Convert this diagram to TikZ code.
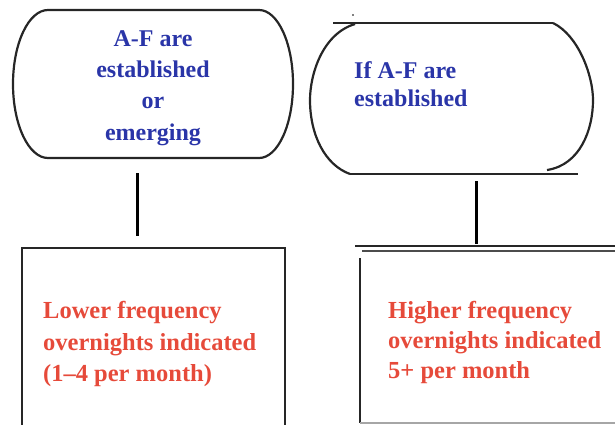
\documentclass[tikz,border=0pt]{standalone}
\usepackage{fontspec}
\setmainfont{Liberation Serif}
\definecolor{qblue}{HTML}{2A35A8}
\definecolor{qred}{HTML}{E64A3A}
\begin{document}
\begin{tikzpicture}[x=1pt,y=-1pt,
  outl/.style={draw=black!85,line width=2.2pt},
  conn/.style={draw=black,line width=3pt},
  qtxt/.style={font=\fontsize{24}{31.3}\selectfont\bfseries,text=qblue,inner sep=0pt},
  rtxt/.style={font=\fontsize{24.5}{31.5}\selectfont\bfseries,text=qred,inner sep=0pt,align=left,anchor=north west}]
\useasboundingbox (0,0) rectangle (615,424);
% left terminator
\draw[outl] (48,10) -- (259,10) .. controls (277.8,10) and (293,43.1) .. (293,84)
  .. controls (293,124.9) and (277.8,158) .. (259,158) -- (48,158)
  .. controls (28.7,158) and (13,124.9) .. (13,84)
  .. controls (13,43.1) and (28.7,10) .. (48,10) -- cycle;
\node[qtxt,align=center,anchor=center] (ltext) at (153,88) {A-F are\\established\\or\\emerging};
% right terminator
\draw[outl] (333,23) -- (553,23);
\draw[outl] (355,24) .. controls (322,34) and (310,75) .. (310,100) .. controls (310,135) and (325,165) .. (350,174);
\draw[outl] (553,23) .. controls (578,35) and (593,75) .. (593,100) .. controls (593,130) and (580,165) .. (547,170);
\draw[outl] (350,174) -- (578,174);
\fill (353,15) circle (0.8);
\node[qtxt,align=left,anchor=north west,font=\fontsize{24}{28}\selectfont\bfseries] (rtext) at (354,61.5) {If A-F are\\established};
% connectors
\coordinate (c1a) at (137,173);
\coordinate (c1b) at (137,236);
\coordinate (c2a) at (476,181);
\coordinate (c2b) at (476,244);
\draw[conn] (c1a) -- (c1b);
\draw[conn] (c2a) -- (c2b);
% left box
\draw[outl] (22,430) -- (22,248) -- (285,248) -- (285,430);
\node[rtxt] (lbox) at (43,301.5) {Lower frequency\\overnights indicated\\(1–4 per month)};
% right box
\draw[outl] (355,246) -- (620,246);
\draw[draw=black!70,line width=1.4pt] (362,251) -- (620,251);
\draw[outl] (360,258) -- (360,423);
\draw[draw=black!35,line width=1.2pt] (360,423) -- (620,423);
\node[rtxt,font=\fontsize{24.5}{30}\selectfont\bfseries] (rbox) at (388,301.5) {Higher frequency\\overnights indicated\\5+ per month};
\end{tikzpicture}
\end{document}
